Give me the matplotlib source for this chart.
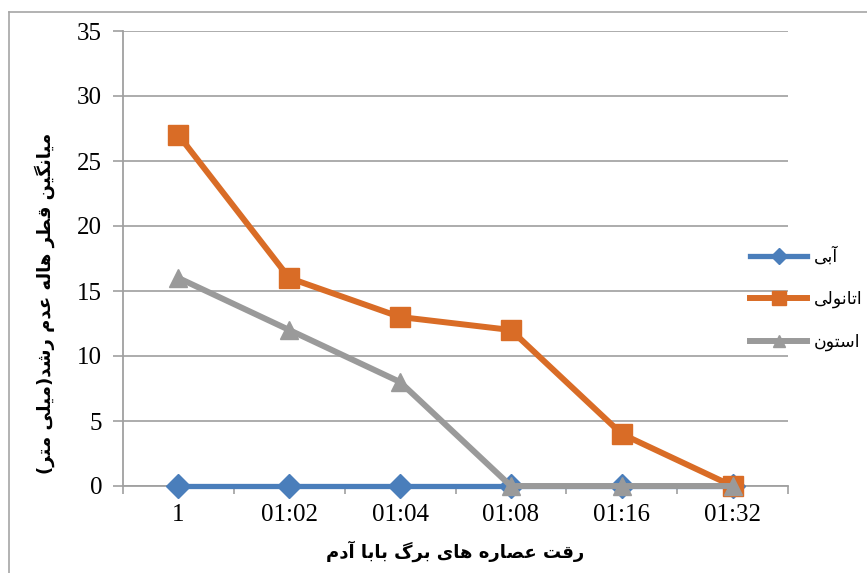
import matplotlib
matplotlib.use("Agg")
import matplotlib.pyplot as plt
import numpy as np

# data
categories = ["1", "01:02", "01:04", "01:08", "01:16", "01:32"]
abi = [0, 0, 0, 0, 0, 0]
etanoli = [27, 16, 13, 12, 4, 0]
aston = [16, 12, 8, 0, 0, 0]
series_names = ["آبی", "اتانولی", "استون"]
x_title = "رقت عصاره های برگ بابا آدم"
y_title = "میانگین قطر هاله عدم رشد(میلی متر)"

# simple arabic/persian shaping (matplotlib does no shaping or bidi)
FORMS = {
    "ا": ("\uFE8D", "\uFE8E"), "آ": ("\uFE81", "\uFE82"),
    "د": ("\uFEA9", "\uFEAA"), "ر": ("\uFEAD", "\uFEAE"),
    "و": ("\uFEED", "\uFEEE"),
    "ب": ("\uFE8F", "\uFE90", "\uFE91", "\uFE92"),
    "ت": ("\uFE95", "\uFE96", "\uFE97", "\uFE98"),
    "س": ("\uFEB1", "\uFEB2", "\uFEB3", "\uFEB4"),
    "ش": ("\uFEB5", "\uFEB6", "\uFEB7", "\uFEB8"),
    "ص": ("\uFEB9", "\uFEBA", "\uFEBB", "\uFEBC"),
    "ط": ("\uFEC1", "\uFEC2", "\uFEC3", "\uFEC4"),
    "ع": ("\uFEC9", "\uFECA", "\uFECB", "\uFECC"),
    "ق": ("\uFED5", "\uFED6", "\uFED7", "\uFED8"),
    "ل": ("\uFEDD", "\uFEDE", "\uFEDF", "\uFEE0"),
    "م": ("\uFEE1", "\uFEE2", "\uFEE3", "\uFEE4"),
    "ن": ("\uFEE5", "\uFEE6", "\uFEE7", "\uFEE8"),
    "ه": ("\uFEE9", "\uFEEA", "\uFEEB", "\uFEEC"),
    "ی": ("\uFBFC", "\uFBFD", "\uFBFE", "\uFBFF"),
    "گ": ("\uFB92", "\uFB93", "\uFB94", "\uFB95"),
}
MIRROR = {"(": ")", ")": "("}


def shape(text):
    out = []
    for i, c in enumerate(text):
        if c not in FORMS:
            out.append(MIRROR.get(c, c))
            continue
        prev = text[i - 1] if i > 0 else ""
        nxt = text[i + 1] if i + 1 < len(text) else ""
        join_prev = prev in FORMS and len(FORMS[prev]) == 4
        join_next = len(FORMS[c]) == 4 and nxt in FORMS
        f = FORMS[c]
        if join_prev and join_next:
            out.append(f[3])
        elif join_prev:
            out.append(f[1])
        elif join_next:
            out.append(f[2])
        else:
            out.append(f[0])
    return "".join(out[::-1])


plt.rcParams["font.family"] = ["Liberation Serif", "DejaVu Sans"]

fig = plt.figure(figsize=(8.67, 5.73), dpi=100)
ax = fig.add_axes([123 / 867, 1 - 486 / 573, 665 / 867, 455 / 573])

x = np.arange(len(categories))
ax.plot(x, abi, color="#4A7EBB", lw=3.8, marker="D", ms=12, label=shape(series_names[0]),
        zorder=3, clip_on=False)
ax.plot(x, etanoli, color="#D96C26", lw=4.3, marker="s", ms=14, label=shape(series_names[1]),
        zorder=4, clip_on=False)
ax.plot(x, aston, color="#9A9A9A", lw=4.3, marker="^", ms=13, label=shape(series_names[2]),
        zorder=5, clip_on=False)

ax.set_xlim(-0.5, len(categories) - 0.5)
ax.set_ylim(0, 35)
ax.set_yticks(range(0, 36, 5))
ax.set_xticks(x)
ax.set_xticklabels(categories)
ax.set_xticks(np.arange(-0.5, len(categories)), minor=True)
ax.tick_params(axis="x", which="major", length=0, pad=13, labelsize=18)
ax.tick_params(axis="x", which="minor", length=6, color="#A0A0A0", width=1.2)
ax.tick_params(axis="y", length=7, color="#A0A0A0", width=1.2, pad=8, labelsize=18)
ax.grid(axis="y", color="#A6A6A6", lw=1.3)
ax.set_axisbelow(True)
for s in ["top", "right"]:
    ax.spines[s].set_visible(False)
for s in ["left", "bottom"]:
    ax.spines[s].set_color("#A0A0A0")
    ax.spines[s].set_linewidth(1.3)

fig.text(455 / 867, 1 - 551 / 573, shape(x_title), ha="center", va="center",
         fontsize=13, fontweight="bold", family="DejaVu Sans")
fig.text(45 / 867, 1 - 303 / 573, shape(y_title), ha="center", va="center",
         rotation=90, fontsize=13, fontweight="bold", family="DejaVu Sans")

leg = fig.legend(loc="center left", bbox_to_anchor=(750 / 867, 1 - 299 / 573), frameon=False,
                 handlelength=3.3, handletextpad=0.4, labelspacing=1.4, markerscale=0.7,
                 borderpad=0, borderaxespad=0,
                 prop={"family": "DejaVu Sans", "size": 12.5})

# outer chart border (partly cropped in the original)
fig.add_artist(plt.Line2D([9 / 867, 9 / 867], [0, 1 - 12 / 573], color="#A6A6A6", lw=1.2))
fig.add_artist(plt.Line2D([9 / 867, 1], [1 - 12 / 573, 1 - 12 / 573], color="#A6A6A6", lw=1.2))

fig.savefig("out.png", dpi=100)
